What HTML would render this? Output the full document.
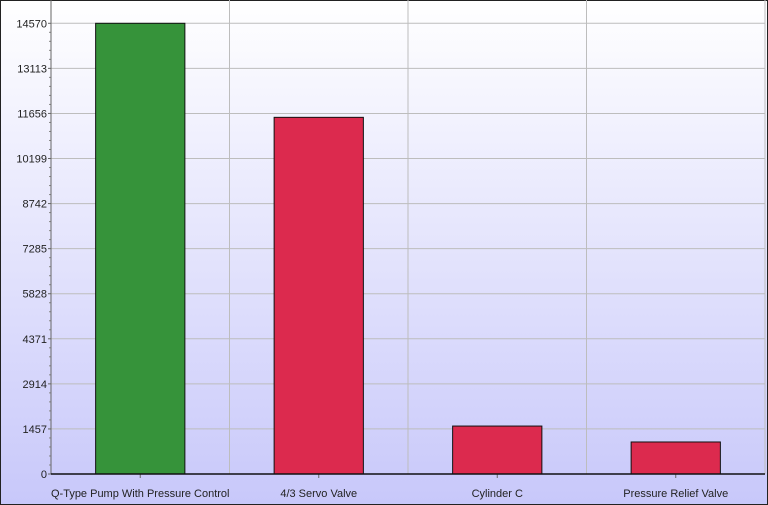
<!DOCTYPE html>
<html><head><meta charset="utf-8"><style>
html,body{margin:0;padding:0;width:768px;height:505px;overflow:hidden;}
svg{display:block;font-family:"Liberation Sans",sans-serif;}
</style></head><body>
<svg id="chart" width="768" height="505">
<defs><linearGradient id="bg" x1="0" y1="0" x2="0" y2="1"><stop offset="0" stop-color="#ffffff"/><stop offset="1" stop-color="#c8c8fa"/></linearGradient></defs>
<rect x="0.5" y="0.5" width="767" height="504" fill="url(#bg)" stroke="#222"/>
<g id="grid"></g><g id="bars"></g><g id="axes"></g>
</svg>
<script>
const categories=["Q-Type Pump With Pressure Control","4/3 Servo Valve","Cylinder C","Pressure Relief Valve"];
const values=[14570,11530,1550,1035];
const colors=["#36933a","#dc2a4e","#dc2a4e","#dc2a4e"];
const tickLabels=[0,1457,2914,4371,5828,7285,8742,10199,11656,13113,14570];
const NS="http://www.w3.org/2000/svg";
const L=51,R=765,B=474,T=23.3,maxV=14570;
const y=v=>B-(v/maxV)*(B-T);
const cw=(R-L)/categories.length;
const x=i=>L+cw*i;
function mk(t,a,p){const e=document.createElementNS(NS,t);for(const k in a)e.setAttribute(k,a[k]);p.appendChild(e);return e;}
const grid=document.getElementById('grid'),bars=document.getElementById('bars'),axes=document.getElementById('axes');
tickLabels.forEach((v,i)=>{
 if(i>0){const g=mk('line',{x1:L,x2:R,y1:y(v),y2:y(v),stroke:'#bdbdbd'},grid);
 
 }
 const t=mk('text',{x:L-4,y:y(v)+4,'text-anchor':'end','font-size':11,fill:'#222'},axes);t.textContent=v;
 
 
 mk('line',{x1:L-3,x2:L,y1:y(v),y2:y(v),stroke:'#666'},axes);
 if(i<tickLabels.length-1)for(let m=1;m<5;m++){const yy=y(v+(tickLabels[1]-tickLabels[0])*m/5);mk('line',{x1:L-2,x2:L,y1:yy,y2:yy,stroke:'#888'},axes);}
});
for(let i=1;i<=categories.length;i++){const g=mk('line',{x1:x(i),x2:x(i),y1:0,y2:B,stroke:'#bdbdbd'},grid);
 
 }
categories.forEach((c,i)=>{
 const bx=x(i)+cw/4;
 const r=mk('rect',{x:bx,y:y(values[i]),width:cw/2,height:B-y(values[i]),fill:colors[i],stroke:'#111','stroke-width':1},bars);
 
 
 mk('line',{x1:x(i)+cw/2,x2:x(i)+cw/2,y1:B,y2:B+4,stroke:'#666'},axes);
 const t=mk('text',{x:x(i)+cw/2,y:497,'text-anchor':'middle','font-size':11,fill:'#222'},axes);t.textContent=c;
 
 
});
const ya=mk('line',{x1:L,x2:L,y1:0,y2:B,stroke:'#666'},axes);


const xa=mk('line',{x1:L,x2:R,y1:B,y2:B,stroke:'#111','stroke-width':1.5},axes);


</script>
</body></html>
